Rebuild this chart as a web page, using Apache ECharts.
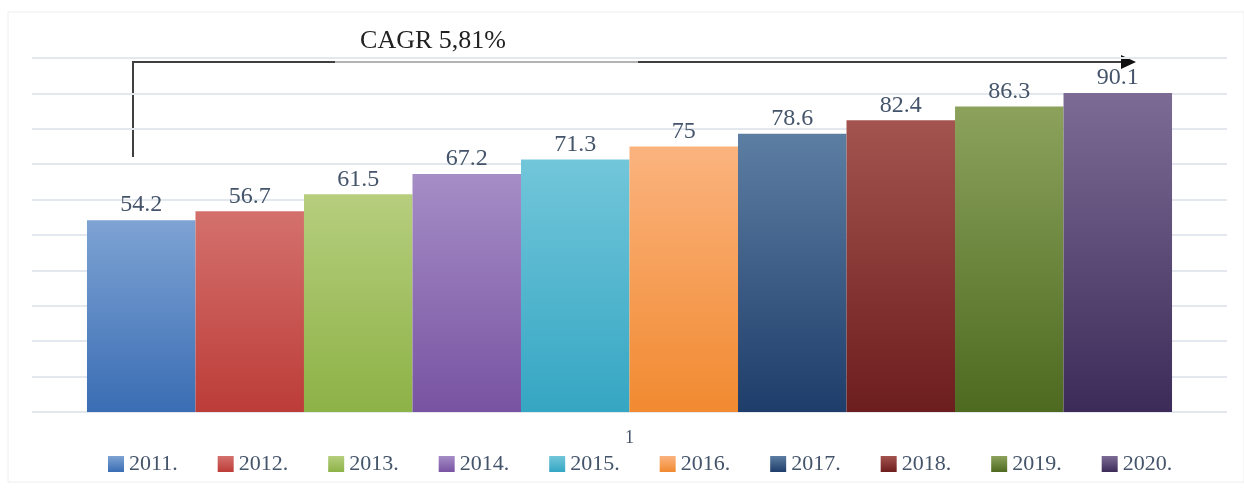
<!DOCTYPE html>
<html>
<head>
<meta charset="utf-8">
<style>
  html, body { margin: 0; padding: 0; background: #fff; }
  #chart { width: 1244px; height: 489px; }
</style>
<script src="https://cdn.jsdelivr.net/npm/echarts@6/dist/echarts.min.js"></script>
</head>
<body>
<div id="chart"></div>
<script>
const categories = ['1']
const years = ['2011.', '2012.', '2013.', '2014.', '2015.', '2016.', '2017.', '2018.', '2019.', '2020.']
const values = [54.2, 56.7, 61.5, 67.2, 71.3, 75, 78.6, 82.4, 86.3, 90.1]
const cagrText = 'CAGR 5,81%'

// gradient top -> bottom for each year
const colors = [
  ['#7ea3d3', '#3a6db4'],
  ['#d4716d', '#bc3c38'],
  ['#b6ce7e', '#8db246'],
  ['#a58dc6', '#7853a2'],
  ['#72c6da', '#35a6c3'],
  ['#fbb37e', '#f18a30'],
  ['#5d7ea3', '#1e3d6a'],
  ['#a4544f', '#6c1d1d'],
  ['#8ca25c', '#4d6a20'],
  ['#7c6c95', '#3c2b58']
]

const textColor = '#44546a'
const font = '"Liberation Serif", serif'

const chart = echarts.init(document.getElementById('chart'))

const series = years.map((name, i) => ({
  name: name,
  type: 'bar',
  data: [values[i]],
  barGap: '0%',
  barCategoryGap: '9.2%',
  itemStyle: {
    color: new echarts.graphic.LinearGradient(0, 0, 0, 1, [
      {offset: 0, color: colors[i][0]},
      {offset: 1, color: colors[i][1]}
    ])
  },
  label: {
    show: true,
    position: 'top',
    distance: 3,
    color: textColor,
    fontFamily: font,
    fontSize: 24
  }
}))

const option = {
  animation: false,
  backgroundColor: '#fff',
  grid: {
    left: 32,
    right: 17,
    top: 58,
    bottom: 77
  },
  xAxis: {
    type: 'category',
    data: categories,
    axisLine: {show: false},
    axisTick: {show: false},
    axisLabel: {
      color: textColor,
      fontFamily: font,
      fontSize: 18,
      margin: 17
    }
  },
  yAxis: {
    type: 'value',
    min: 0,
    max: 100,
    interval: 10,
    axisLabel: {show: false},
    axisLine: {show: false},
    axisTick: {show: false},
    splitLine: {
      lineStyle: {color: '#e3e8ef', width: 2}
    }
  },
  legend: {
    left: 103,
    top: 448,
    icon: 'rect',
    itemWidth: 16,
    itemHeight: 16,
    itemGap: 40,
    textStyle: {
      color: textColor,
      fontFamily: font,
      fontSize: 22
    },
    data: years
  },
  graphic: [
    // light frame round the chart
    {
      type: 'rect',
      shape: {x: 8, y: 12, width: 1236, height: 470},
      style: {fill: 'none', stroke: '#eeeeee', lineWidth: 1}
    },
    // white box behind the CAGR text
    {
      type: 'rect',
      shape: {x: 335, y: 13, width: 303, height: 48},
      style: {fill: '#fff'}
    },
    // CAGR bracket arrow
    {
      type: 'polyline',
      shape: {points: [[133, 157], [133, 62], [335, 62]]},
      style: {fill: 'none', stroke: '#404040', lineWidth: 2}
    },
    {
      type: 'line',
      shape: {x1: 335, y1: 62, x2: 638, y2: 62},
      style: {stroke: '#9a9a9a', lineWidth: 1.5}
    },
    {
      type: 'line',
      shape: {x1: 638, y1: 62, x2: 1122, y2: 62},
      style: {stroke: '#404040', lineWidth: 2}
    },
    {
      type: 'polygon',
      shape: {points: [[1121, 55], [1136, 62], [1121, 69]]},
      style: {fill: '#111'}
    },
    {
      type: 'text',
      x: 433,
      y: 41,
      style: {
        text: cagrText,
        fill: '#222',
        font: '26px "Liberation Serif", serif',
        align: 'center',
        verticalAlign: 'middle'
      }
    }
  ],
  series: series
}

chart.setOption(option, true)
</script>
</body>
</html>
